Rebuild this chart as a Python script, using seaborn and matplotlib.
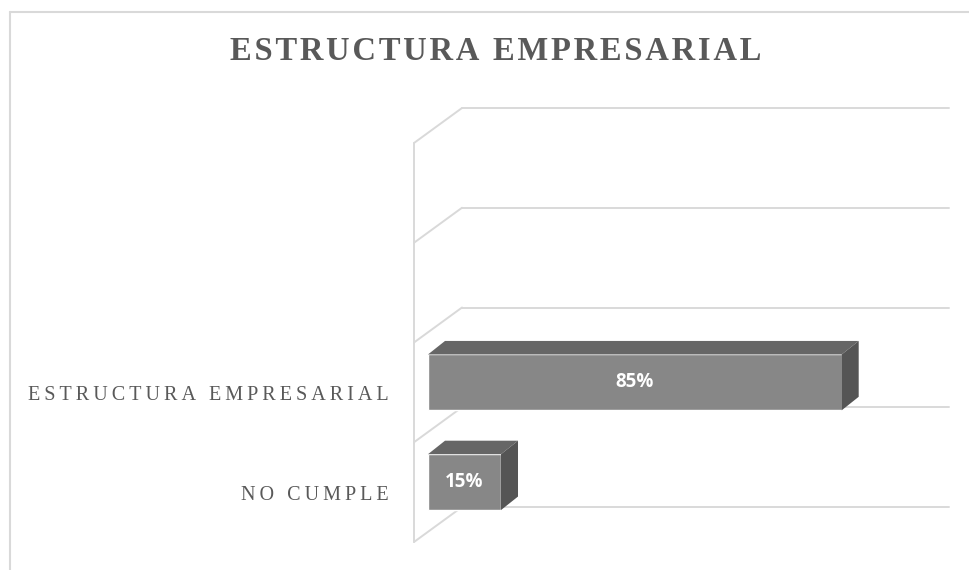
"""Gráfico de barras 3D: estructura empresarial."""

import matplotlib.pyplot as plt
import numpy as np
import pandas as pd
import seaborn as sns
from matplotlib.lines import Line2D
from matplotlib.patches import Polygon
from matplotlib.transforms import ScaledTranslation

TITLE = "ESTRUCTURA EMPRESARIAL"
categories = ["ESTRUCTURA EMPRESARIAL", "NO CUMPLE"]
values = [0.85, 0.15]
value_labels = ["85%", "15%"]

FRONT_COLOR = "#878787"
TOP_COLOR = "#666666"
SIDE_COLOR = "#555555"
GRID_COLOR = "#d9d9d9"
TEXT_COLOR = "#595959"

# desplazamientos en píxeles (pantalla, y hacia arriba) respecto al plano frontal de las barras
BACK = np.array([34.0, 25.0])
FRONT = np.array([-14.0, -10.0])
DEPTH = np.array([17.0, 13.5])


def spaced(text, sep):
    """Simula el espaciado entre letras insertando un espacio fino."""
    return sep.join(text)


sns.set_theme(style="white")
plt.rcParams["font.family"] = ["Liberation Serif", "DejaVu Serif"]

fig = plt.figure(figsize=(9.69, 5.70), dpi=100)
ax = fig.add_axes([428 / 969, (570 - 532) / 570, 486.7 / 969, 399 / 570])

df = pd.DataFrame({"categoria": categories, "valor": values})
sns.barplot(data=df, x="valor", y="categoria", order=categories, orient="h",
            color=FRONT_COLOR, saturation=1, width=0.56, ax=ax, zorder=3)

ax.set_xlim(0, 1)
ax.set_ylim(1.5, -2.5)
ax.set_xlabel("")
ax.set_ylabel("")
ax.set_xticks([])
for side in ax.spines.values():
    side.set_visible(False)
ax.grid(False)

fig.canvas.draw()
to_disp = ax.transData.transform
to_data = ax.transData.inverted().transform


def shifted(x, y, offset):
    return to_data(to_disp((x, y)) + offset)


# paredes: líneas de cuadrícula al fondo, diagonales y arista frontal
bounds = np.arange(-2.5, 2.0, 1.0)
for b in bounds:
    p0 = shifted(0, b, BACK)
    p1 = shifted(1, b, BACK)
    ax.add_line(Line2D([p0[0], p1[0]], [p0[1], p1[1]], color=GRID_COLOR,
                       lw=1.4, zorder=1, clip_on=False))
    f0 = shifted(0, b, FRONT)
    ax.add_line(Line2D([f0[0], p0[0]], [f0[1], p0[1]], color=GRID_COLOR,
                       lw=1.4, zorder=1, clip_on=False))
top_f = shifted(0, bounds[0], FRONT)
bot_f = shifted(0, bounds[-1], FRONT)
ax.add_line(Line2D([top_f[0], bot_f[0]], [top_f[1], bot_f[1]], color=GRID_COLOR,
                   lw=1.4, zorder=1, clip_on=False))

# caras superior y lateral de cada barra
for bar in ax.patches[:len(values)]:
    x0, x1 = bar.get_x(), bar.get_x() + bar.get_width()
    y_top = min(bar.get_y(), bar.get_y() + bar.get_height())
    y_bot = max(bar.get_y(), bar.get_y() + bar.get_height())
    top = [(x0, y_top), (x1, y_top), shifted(x1, y_top, DEPTH), shifted(x0, y_top, DEPTH)]
    side = [(x1, y_top), (x1, y_bot), shifted(x1, y_bot, DEPTH), shifted(x1, y_top, DEPTH)]
    ax.add_patch(Polygon(top, closed=True, facecolor=TOP_COLOR, edgecolor="none",
                         zorder=3, clip_on=False))
    ax.add_patch(Polygon(side, closed=True, facecolor=SIDE_COLOR, edgecolor="none",
                         zorder=3, clip_on=False))
    bar.set_clip_on(False)

ax.bar_label(ax.containers[0], labels=value_labels, label_type="center",
             color="white", fontweight="bold", fontsize=13.5,
             fontfamily=["Open Sans", "DejaVu Sans"], zorder=5)

# etiquetas de categoría en el plano frontal
ax.tick_params(axis="y", length=0, pad=28)
ax.set_yticks(range(len(categories)))
ax.set_yticklabels([spaced(c, "\u2009") for c in categories], fontsize=14.5,
                   color=TEXT_COLOR)
for lab in ax.get_yticklabels():
    lab.set_transform(lab.get_transform() + ScaledTranslation(0, -0.11, fig.dpi_scale_trans))

fig.text(496 / 969, 1 - 51 / 570, spaced(TITLE, "\u200a"), ha="center", va="center",
         fontsize=23.5, fontweight="bold", color=TEXT_COLOR)

# borde del área del gráfico
fig.add_artist(Line2D([9.5 / 969, 9.5 / 969], [0, 1 - 12 / 570], color=GRID_COLOR,
                      lw=1.5, transform=fig.transFigure))
fig.add_artist(Line2D([9.5 / 969, 1], [1 - 12 / 570, 1 - 12 / 570], color=GRID_COLOR,
                      lw=1.5, transform=fig.transFigure))

fig.savefig("out.png", dpi=100)
